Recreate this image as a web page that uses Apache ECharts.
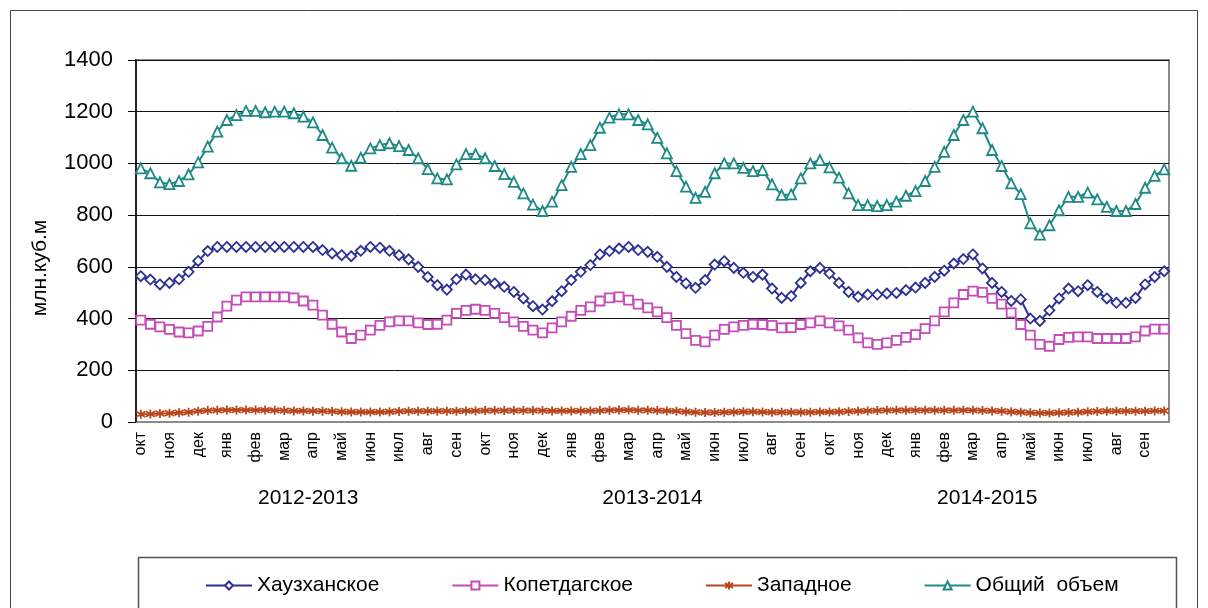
<!DOCTYPE html>
<html>
<head>
<meta charset="utf-8">
<script src="https://cdn.jsdelivr.net/npm/echarts@6/dist/echarts.min.js"></script>
<style>
html,body{margin:0;padding:0;background:#fff;}
#chart{width:1208px;height:608px;}
</style>
</head>
<body>
<div id="chart"></div>
<script>
// ---- data ----
const months = ['окт','ноя','дек','янв','фев','мар','апр','май','июн','июл','авг','сен'];
const years = ['2012-2013','2013-2014','2014-2015'];
const yearLabelPos = [18, 54, 89]; // boundary positions (of 108 ten-day periods) where year labels sit
const seriesNames = ['Хаузханское','Копетдагское','Западное','Общий  объем'];

const haus = [
 564,551,532,538,552,581,623,661,677,677,677,677,677,677,677,677,677,677,677,665,652,645,641,662,677,674,662,645,629,600,561,529,512,552,570,552,
 549,536,523,503,478,448,435,467,506,549,581,607,648,661,671,677,665,658,639,600,561,536,519,549,609,622,596,577,561,570,516,480,487,538,583,596,
 574,538,503,484,493,493,497,499,510,520,538,561,585,613,630,648,594,538,503,468,474,400,391,432,478,516,506,529,503,478,461,461,480,532,561,583
];
const kopet = [
 394,378,368,358,348,345,352,370,406,448,471,484,484,484,484,484,480,468,452,413,378,348,323,336,355,374,387,391,391,383,377,378,394,420,432,436,
 432,420,404,387,370,355,345,364,387,409,432,445,468,480,484,471,456,441,426,404,374,342,316,310,336,358,368,374,378,377,374,364,365,377,383,391,
 383,372,355,325,306,300,306,316,327,338,361,391,426,461,493,506,501,478,456,422,377,336,300,293,319,327,329,329,323,323,323,323,329,352,359,359
];
const zapad = [
 30,31,33,34,36,38,42,44,45,46,46,46,46,46,45,44,43,43,42,42,41,40,39,39,39,39,40,41,42,42,42,42,42,42,43,43,
 44,44,44,44,44,44,44,43,43,43,43,43,44,45,46,46,45,45,44,43,42,40,38,37,37,38,39,40,40,39,38,38,38,38,38,39,
 39,40,41,42,43,44,45,45,45,45,45,45,45,45,45,45,44,43,42,40,38,36,35,35,36,37,38,40,41,42,42,42,42,42,43,43
];
const total = [
 981,962,927,920,932,958,1004,1065,1123,1168,1187,1203,1203,1198,1200,1200,1194,1181,1159,1110,1061,1020,991,1022,1058,1071,1078,1067,1052,1020,978,942,938,996,1036,1036,
 1020,990,959,929,884,841,816,852,916,987,1036,1071,1138,1177,1190,1190,1168,1151,1099,1039,970,910,867,890,962,1000,1000,983,970,974,919,878,880,942,1000,1013,
 985,945,884,839,839,835,839,852,875,893,932,987,1045,1110,1168,1200,1136,1052,990,923,881,768,725,761,819,871,871,887,861,832,816,816,843,906,952,977
];

// ---- categories (3 ten-day periods per month) ----
const categories = [];
years.forEach(() => months.forEach(m => { categories.push(m, m, m); }));
const yearCats = [];
for (let i = 0; i <= categories.length; i++) {
  const k = yearLabelPos.indexOf(i);
  yearCats.push(k >= 0 ? years[k] : '');
}

const FONT = '"Liberation Sans", Arial, sans-serif';
const colors = ['#2E3192', '#C44DB8', '#B8461C', '#1F8A85'];
const symbols = ['diamond', 'rect', 'path://M5,0 L5,10 M0,2 L10,8 M0,8 L10,2', 'triangle'];
const sizes = [10, 9, 9, 10];
const dataSets = [haus, kopet, zapad, total];

const chart = echarts.init(document.getElementById('chart'), null, {renderer: 'canvas'});
chart.setOption({
  animation: false,
  backgroundColor: '#fff',
  textStyle: {fontFamily: FONT},
  grid: {left: 136, right: 39, top: 60, bottom: 186, show: true, borderColor: '#8a8a8a', borderWidth: 2},
  graphic: [
    {type: 'rect', shape: {x: 10.5, y: 10.5, width: 1187, height: 700}, style: {fill: 'none', stroke: '#444', lineWidth: 1}, silent: true, z: -1},
    {type: 'rect', shape: {x: 138.5, y: 557.5, width: 1038, height: 100}, style: {fill: 'none', stroke: '#555', lineWidth: 1.5}, silent: true},
    {type: 'text', x: 40, y: 268, rotation: Math.PI / 2,
     style: {text: 'млн.куб.м', font: '21px ' + FONT, fill: '#000', align: 'center', verticalAlign: 'middle'}, silent: true}
  ],
  legend: {
    data: seriesNames,
    left: 200, top: 570,
    itemWidth: 46, itemHeight: 10, itemGap: 72,
    textStyle: {fontSize: 21, color: '#000', fontFamily: FONT}
  },
  xAxis: [
    {
      type: 'category', data: categories, boundaryGap: true,
      axisLine: {show: true, lineStyle: {color: '#8a8a8a', width: 1}},
      axisTick: {show: false},
      splitLine: {show: false},
      axisLabel: {interval: 2, rotate: 90, margin: 10, fontSize: 16, color: '#000', fontFamily: FONT}
    },
    {
      type: 'category', data: yearCats, boundaryGap: false, position: 'bottom', offset: 66,
      axisLine: {show: false}, axisTick: {show: false}, splitLine: {show: false},
      axisLabel: {interval: 0, margin: 0, fontSize: 21, color: '#000', fontFamily: FONT}
    }
  ],
  yAxis: {
    type: 'value', min: 0, max: 1400, interval: 200,
    axisLine: {show: true, lineStyle: {color: '#000', width: 1.5}},
    axisTick: {show: true, inside: false, length: 8, lineStyle: {color: '#000', width: 1}},
    splitLine: {show: true, lineStyle: {color: '#111', width: 1}},
    axisLabel: {margin: 23, fontSize: 22, color: '#000', fontFamily: FONT, formatter: v => String(v)}
  },
  series: seriesNames.map((name, i) => ({
    name: name, type: 'line', xAxisIndex: 0,
    data: dataSets[i],
    symbol: symbols[i], symbolSize: sizes[i], showAllSymbol: true,
    lineStyle: {color: colors[i], width: 2},
    itemStyle: {color: '#fff', borderColor: colors[i], borderWidth: 1.8},
    z: 2 + i
  }))
});
</script>
</body>
</html>
